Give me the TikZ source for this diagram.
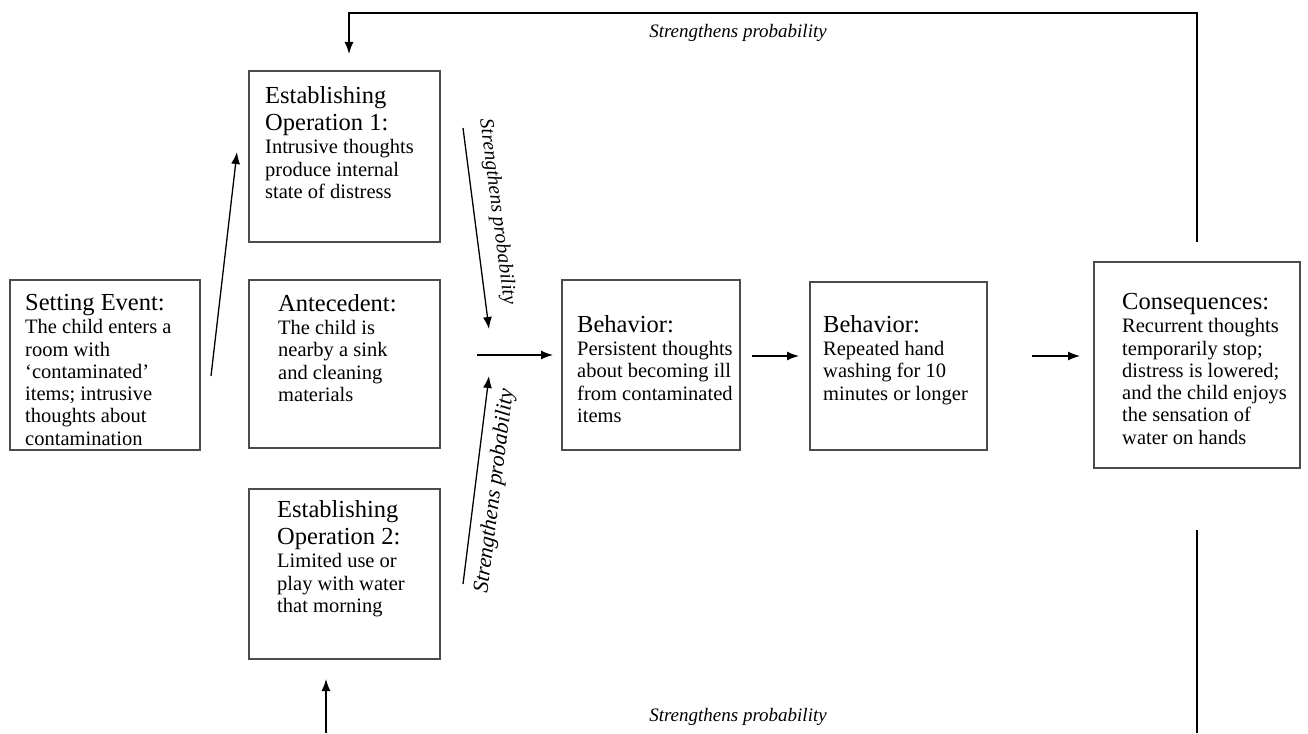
\documentclass[tikz,border=0pt]{standalone}
\usepackage{fontspec}
\setmainfont{Liberation Serif}
\usepackage{tikz}
\usetikzlibrary{arrows.meta}
\tikzstyle{arrow} = [line width=1.3pt,->,>={Latex[length=12pt,width=9pt]}]
\tikzstyle{line} = [line width=1.3pt]
\tikzstyle{box} = [draw=black!70, line width=1.6pt, rectangle, inner sep=0pt]
\tikzstyle{txt} = [anchor=north west, align=left, inner sep=0pt, font=\bodyfont]
\tikzstyle{lbl} = [inner sep=0pt, font=\itshape]
\newcommand{\bodyfont}{\fontsize{20.5}{22.3}\selectfont}
\newcommand{\boxtitle}[1]{{\fontsize{24.5}{28}\selectfont #1}}

\begin{document}
\begin{tikzpicture}[x=1pt, y=-1pt]
          \useasboundingbox (0,0) rectangle (1308,733);

          % Boxes
          \node[box, minimum width=190, minimum height=170] (setting) at (105,365) {};
          \node[box, minimum width=191, minimum height=171] (eo1) at (344.5,156.5) {};
          \node[box, minimum width=191, minimum height=168] (ante) at (344.5,364) {};
          \node[box, minimum width=191, minimum height=170] (eo2) at (344.5,574) {};
          \node[box, minimum width=178, minimum height=170] (beh1) at (651,365) {};
          \node[box, minimum width=177, minimum height=168] (beh2) at (898.5,366) {};
          \node[box, minimum width=206, minimum height=206] (cons) at (1197,365) {};

          % Box texts
          \node[txt] (settingtxt) at (25,294) {\boxtitle{Setting Event:}\\[1pt]
            The child enters a\\room with\\‘contaminated’\\items; intrusive\\thoughts about\\contamination};
          \node[txt] (eo1txt) at (265,86) {\boxtitle{Establishing}\\[5pt]\boxtitle{Operation 1:}\\[1pt]
            Intrusive thoughts\\produce internal\\state of distress};
          \node[txt] (antetxt) at (278,294) {\boxtitle{Antecedent:}\\[1pt]
            The child is\\nearby a sink\\and cleaning\\materials};
          \node[txt] (eo2txt) at (277,500) {\boxtitle{Establishing}\\[5pt]\boxtitle{Operation 2:}\\[1pt]
            Limited use or\\play with water\\that morning};
          \node[txt] (beh1txt) at (577,315) {\boxtitle{Behavior:}\\[1pt]
            Persistent thoughts\\about becoming ill\\from contaminated\\items};
          \node[txt] (beh2txt) at (823,315) {\boxtitle{Behavior:}\\[1pt]
            Repeated hand\\washing for 10\\minutes or longer};
          \node[txt] (constxt) at (1122,293) {\boxtitle{Consequences:}\\[1pt]
            Recurrent thoughts\\temporarily stop;\\distress is lowered;\\and the child enjoys\\the sensation of\\water on hands};

          % Free ends of the arrows
          \coordinate (s1) at (211,376);
          \coordinate (s2) at (237,152);
          \coordinate (d1) at (463,128);
          \coordinate (d2) at (489,329);
          \coordinate (u1) at (463,584);
          \coordinate (u2) at (489,376);
          \coordinate (h1) at (477,355);
          \coordinate (h2) at (553,355);
          \coordinate (b1) at (752,356);
          \coordinate (b2) at (799,356);
          \coordinate (c1) at (1032,356);
          \coordinate (c2) at (1080,356);
          \coordinate (t1) at (1197,242);
          \coordinate (t2) at (1197,13);
          \coordinate (t3) at (349,13);
          \coordinate (t4) at (349,54);
          \coordinate (r1) at (1197,530);
          \coordinate (r2) at (1197,733);
          \coordinate (l1) at (326,733);
          \coordinate (l2) at (326,679);

          % Arrows
          \draw[arrow] (s1) -- (s2);
          \draw[arrow] (d1) -- (d2);
          \draw[arrow] (u1) -- (u2);
          \draw[arrow] (h1) -- (h2);
          \draw[arrow] (b1) -- (b2);
          \draw[arrow] (c1) -- (c2);
          \draw[arrow] (t1) -- (t2) -- (t3) -- (t4);
          \draw[line] (r1) -- (r2);
          \draw[arrow] (l1) -- (l2);

          % Labels
          \node[lbl, font=\itshape\fontsize{19}{19}\selectfont] (toplbl) at (738,33) {Strengthens probability};
          \node[lbl, font=\itshape\fontsize{19}{19}\selectfont] (botlbl) at (738,717) {Strengthens probability};
          \node[lbl, font=\itshape\fontsize{20}{20}\selectfont, rotate=-82.6] (downlbl) at (497,212) {Strengthens probability};
          \node[lbl, font=\itshape\fontsize{22}{22}\selectfont, rotate=82.8] (uplbl) at (495,491) {Strengthens probability};

        \end{tikzpicture}
\end{document}
